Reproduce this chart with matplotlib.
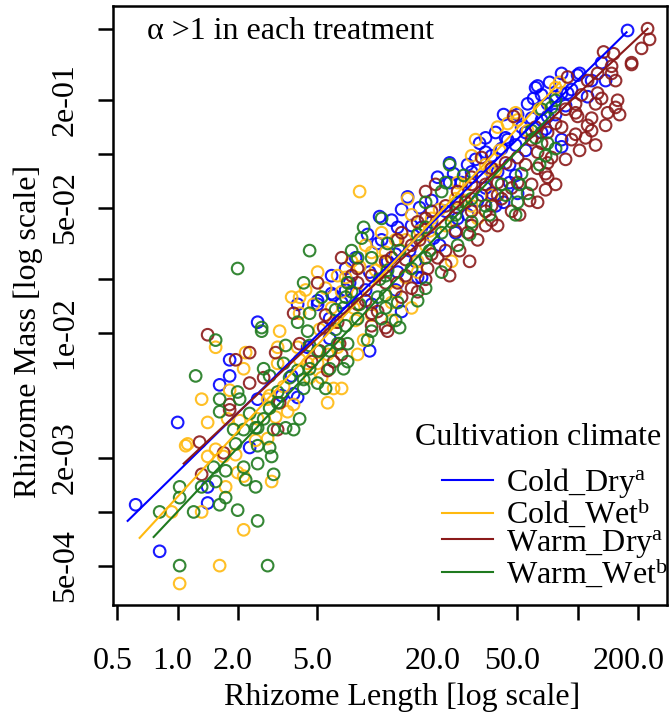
import numpy as np
import matplotlib.pyplot as plt
from matplotlib.lines import Line2D
from matplotlib.ticker import NullLocator
from matplotlib.transforms import ScaledTranslation

plt.rcParams['font.family'] = ['Liberation Serif', 'DejaVu Serif']
plt.rcParams['mathtext.fontset'] = 'custom'
plt.rcParams['mathtext.rm'] = 'Liberation Serif'
plt.rcParams['mathtext.it'] = 'Liberation Serif:italic'

# log10 rhizome length / log10 rhizome mass
cold_dry_len = [-0.21, -0.09, 0.00, 0.15, 0.15, 0.21, 0.26, 0.26, 0.36, 0.40, 0.40, 0.52, 0.57, 0.58, 0.60,
                0.60, 0.65, 0.77, 0.78, 0.84, 0.95, 0.96, 0.96, 0.97, 1.00, 1.01, 1.07, 1.10, 1.12, 1.12,
                1.15, 1.21, 1.22, 1.27, 1.28, 1.30, 1.36, 1.36, 1.38, 1.42, 1.45, 1.49, 1.51, 1.52, 1.54,
                1.54, 1.57, 1.59, 1.60, 1.63, 1.64, 1.66, 1.69, 1.70, 1.70, 1.72, 1.74, 1.78, 1.79, 1.82,
                1.82, 1.85, 1.86, 1.89, 1.92, 1.92, 1.95, 2.00, 2.05, 2.12, 2.14, 2.25, 1.80, 2.01, 1.63,
                0.89, 1.05, 1.16, 0.84, 0.70, 1.09,
                1.02, 1.10, 0.82, 0.77, 0.70, 1.20, 1.22, 1.47, 1.57, 1.34, 1.40, 1.27, 1.17, 1.54, 1.62,
                1.92, 1.85, 1.75, 1.65, 1.69, 1.82, 1.77, 1.92, 1.97, 2.07, 0.76,
                1.09, 1.19, 1.31, 1.39, 1.45, 1.50, 1.59, 1.66, 1.74, 1.84, 1.89, 1.94, 0.86, 0.94, 0.76]
cold_dry_mass = [-2.96, -3.22, -2.50, -2.86, -2.95, -2.29, -2.15, -2.24, -2.64, -2.37, -1.94, -2.35, -2.24, -2.34, -2.36,
                 -1.84, -2.08, -1.68, -1.79, -1.64, -1.45, -2.10, -1.66, -1.84, -1.50, -1.35, -1.37, -1.66, -1.88, -1.31,
                 -1.24, -1.30, -1.69, -1.26, -1.47, -1.13, -1.16, -1.05, -1.11, -1.16, -1.06, -1.03, -0.94, -1.13, -0.99,
                 -0.91, -1.22, -0.88, -1.10, -1.27, -0.91, -1.16, -1.12, -1.22, -0.78, -0.85, -0.88, -0.69, -0.63, -0.67,
                 -0.81, -0.79, -0.60, -0.68, -0.92, -0.96, -0.66, -0.56, -0.68, -0.49, -0.59, -0.31, -0.62, -0.55, -0.78,
                 -1.58, -1.60, -1.54, -1.76, -1.82, -1.76,
                 -1.48, -1.41, -1.83, -1.78, -1.84, -1.69, -1.41, -1.10, -1.01, -1.32, -1.36, -1.38, -1.40, -1.19, -0.97,
                 -0.66, -0.72, -0.72, -0.92, -0.95, -0.88, -0.80, -0.55, -0.64, -0.59, -2.03,
                 -1.56, -1.60, -1.51, -1.44, -1.34, -1.26, -1.29, -1.06, -0.98, -0.86, -0.78, -0.73, -1.72, -1.76, -1.92]

cold_wet_len = [0.04, 0.19, 0.15, 0.23, 0.30, 0.33, 0.47, 0.24, -0.03, 0.12, 0.33, 0.21, 0.01, 0.19, 0.51,
                0.34, 0.33, 0.26, 0.12, 0.15, 0.05, 0.45, 0.49, 0.55, 0.75, 0.58, 0.40, 0.25, 0.31, 0.82,
                0.78, 0.72, 0.90, 0.50, 0.50, 0.60, 0.66, 0.70, 0.75, 0.53, 0.70, 0.57, 0.61, 0.61, 0.68,
                0.74, 0.80, 0.91, 1.02, 0.97, 1.37, 1.17, 1.07, 0.88, 0.78, 0.64, 0.82, 1.02, 1.20, 1.14,
                0.90, 1.07, 0.91, 1.47, 1.15, 1.50, 1.39, 1.17, 1.91, 1.65, 1.70, 1.49, 1.26, 1.09, 1.24,
                1.34, 1.44, 1.59,
                0.94, 1.04, 0.84, 0.77, 1.20, 0.97, 1.09, 0.87, 1.40, 1.54, 1.27, 1.57, 1.47, 1.69, 1.60,
                1.89, 0.65, 0.80, 0.93, 0.45,
                1.14, 1.21, 1.31, 1.44, 1.56, 1.61, 1.75, 1.81, 0.99, 0.89, 0.71, 0.61, 0.46, 0.39, 0.29]
cold_wet_mass = [-2.63, -2.65, -2.69, -2.69, -2.78, -2.80, -2.83, -2.86, -3.00, -3.00, -3.10, -3.30, -3.40, -2.08, -1.99,
                 -2.11, -2.20, -2.32, -2.37, -2.50, -2.62, -2.59, -2.47, -2.44, -2.39, -2.40, -2.48, -2.48, -2.49, -2.31,
                 -2.31, -2.25, -2.12, -2.17, -2.08, -2.08, -2.25, -2.17, -2.12, -2.30, -1.66, -1.80, -1.80, -1.89, -1.84,
                 -1.75, -1.68, -1.63, -1.44, -1.55, -1.60, -1.86, -1.93, -1.86, -1.94, -1.76, -1.77, -1.60, -1.60, -1.69,
                 -1.78, -1.83, -1.21, -1.01, -1.25, -1.36, -1.25, -1.34, -0.60, -0.83, -0.81, -0.92, -1.43, -1.48, -1.51,
                 -1.40, -1.26, -1.09,
                 -1.51, -1.55, -1.69, -1.86, -1.66, -1.90, -1.77, -1.60, -1.16, -1.06, -1.36, -1.23, -1.29, -0.77, -0.85,
                 -0.63, -2.17, -2.08, -2.04, -2.37,
                 -1.48, -1.43, -1.31, -1.17, -1.09, -0.98, -0.87, -0.75, -1.65, -1.93, -1.98, -2.15, -2.35, -2.60, -2.68]

warm_dry_len = [0.11, 0.23, 0.12, 0.15, 0.36, 0.29, 0.36, 0.26, 0.26, 0.50, 0.43, 0.49, 0.61, 0.67, 0.78,
                0.82, 0.81, 0.71, 0.51, 0.70, 0.58, 0.82, 1.12, 1.30, 1.45, 1.17, 1.12, 1.05, 1.00, 0.74,
                0.73, 0.87, 0.90, 1.07, 1.25, 1.10, 0.94, 0.97, 1.52, 1.80, 1.85, 1.87, 1.80, 1.70, 1.64,
                1.74, 1.57, 1.24, 1.62, 1.57, 1.54, 1.47, 1.57, 1.47, 1.34, 1.40, 1.47, 1.54, 1.60, 1.67,
                1.44, 1.52, 1.24, 1.29, 2.17, 2.27, 2.05, 1.95, 2.17, 2.02, 2.10, 2.12, 2.20, 2.19, 1.99,
                1.94, 2.00, 2.07, 2.05, 1.99, 2.04, 1.97, 1.92, 1.79, 1.68, 1.77, 2.35, 2.36, 2.32, 2.18,
                2.13, 2.27, 1.84, 1.85, 1.39, 1.21, 1.34, 1.14,
                0.90, 0.97, 1.04, 1.10, 1.20, 1.27, 1.17, 1.04, 0.90, 0.97, 1.04, 0.80, 1.60, 1.70, 1.47,
                1.40, 1.54, 1.67, 1.77, 1.80, 1.27, 1.20, 2.09, 1.89, 1.85, 1.99, 2.07, 2.15, 2.19, 2.10,
                1.82, 0.75,
                1.14, 1.24, 1.34, 1.41, 1.50, 1.60, 1.71, 1.76, 1.84, 1.89, 1.94, 2.01, 2.09, 2.14, 2.21,
                1.36, 1.46]
warm_dry_mass = [-2.61, -2.67, -2.79, -2.01, -2.11, -2.15, -2.28, -2.40, -2.43, -2.54, -2.25, -2.11, -2.06, -2.16, -2.16,
                 -2.12, -2.06, -2.10, -2.39, -1.72, -1.89, -1.58, -1.44, -1.58, -1.44, -1.75, -1.80, -1.99, -1.88, -1.90,
                 -1.97, -1.68, -1.72, -1.58, -1.64, -1.48, -1.82, -1.89, -1.02, -1.08, -1.13, -1.02, -0.99, -1.02, -1.05,
                 -1.06, -1.08, -1.21, -1.25, -1.29, -1.32, -1.32, -1.37, -1.40, -1.29, -1.21, -1.17, -1.17, -1.16, -1.19,
                 -1.27, -1.23, -1.36, -1.17, -0.51, -0.50, -0.59, -0.57, -0.55, -0.67, -0.66, -0.69, -0.70, -0.74, -0.72,
                 -0.75, -0.79, -0.80, -0.84, -0.89, -0.91, -0.92, -0.85, -0.85, -0.79, -0.92, -0.30, -0.36, -0.41, -0.44,
                 -0.43, -0.49, -1.11, -1.05, -1.43, -1.48, -1.54, -1.59,
                 -1.64, -1.68, -1.72, -1.72, -1.77, -1.56, -1.51, -1.60, -1.84, -1.96, -1.97, -1.94, -1.23, -1.16, -1.13,
                 -1.30, -1.40, -1.32, -1.17, -1.27, -1.32, -1.38, -0.72, -0.83, -0.88, -0.77, -0.87, -0.77, -0.59, -0.55,
                 -0.94, -2.21,
                 -1.68, -1.70, -1.62, -1.54, -1.48, -1.40, -1.34, -1.26, -1.20, -1.17, -1.03, -0.98, -0.95, -0.84, -0.78,
                 -1.68, -1.60]

warm_wet_len = [0.29, 0.40, 0.46, 0.47, 0.40, 0.33, 0.18, 0.24, 0.34, 0.48, 0.19, 0.12, 0.01, 0.39, 0.01,
                0.24, 0.21, -0.09, 0.08, 0.30, 0.40, 0.01, 0.45, 0.19, 0.42, 0.09, 0.30, 0.21, 0.21, 0.31,
                0.28, 0.33, 0.40, 0.48, 0.54, 0.58, 0.61, 0.50, 0.43, 0.39, 0.74, 0.70, 0.76, 0.83, 0.85,
                0.95, 0.43, 0.46, 0.53, 0.54, 0.56, 0.63, 0.66, 0.76, 0.80, 0.63, 0.50, 0.46, 0.30, 0.66,
                0.42, 0.63, 0.66, 0.60, 0.72, 0.87, 0.93, 0.90, 1.05, 1.40, 1.32, 1.24, 1.11, 1.02, 1.00,
                0.83, 0.79, 0.84, 0.65, 0.85, 1.05, 1.20, 1.32, 1.04, 1.36, 1.43, 1.89, 1.72, 1.75, 1.69,
                1.37, 1.02, 1.32, 1.47, 1.24, 1.87, 1.82,
                0.92, 0.97, 1.04, 0.87, 0.90, 0.84, 1.17, 1.24, 1.10, 1.04, 0.97, 1.40, 1.54, 1.62, 1.34,
                1.47, 1.24, 1.70, 1.85, 1.79, 1.89, 1.77, 0.70, 0.85, 0.60, 0.36,
                1.11, 1.26, 1.39, 1.46, 1.56, 1.64, 1.71, 1.81, 1.84, 1.01, 0.91, 1.09, 0.79, 0.66, 1.20]
warm_wet_mass = [-2.62, -2.63, -2.64, -2.69, -2.73, -2.75, -2.75, -2.77, -2.82, -2.79, -2.83, -2.86, -2.86, -2.86, -2.92,
                 -2.92, -2.96, -3.00, -3.00, -2.99, -3.05, -3.30, -3.30, -2.04, -1.99, -2.24, -2.33, -2.37, -2.44, -2.37,
                 -2.54, -2.54, -2.53, -2.54, -2.53, -2.54, -2.48, -2.39, -2.48, -2.53, -2.31, -2.28, -2.20, -2.20, -2.06,
                 -2.04, -2.20, -2.24, -2.17, -2.07, -2.25, -2.26, -2.20, -2.10, -2.06, -2.31, -2.33, -2.42, -1.64, -1.54,
                 -1.97, -1.72, -1.89, -1.94, -1.80, -1.54, -1.41, -1.58, -1.50, -1.51, -1.66, -1.75, -1.97, -1.92, -1.80,
                 -1.86, -1.87, -1.96, -1.99, -1.72, -1.65, -1.45, -1.44, -1.79, -1.06, -1.12, -0.97, -1.11, -1.22, -1.34,
                 -1.38, -1.36, -1.21, -1.25, -1.27, -0.74, -0.75,
                 -1.47, -1.58, -1.68, -1.77, -1.92, -1.80, -1.64, -1.58, -1.83, -1.86, -1.99, -1.27, -1.29, -1.17, -1.16,
                 -1.38, -1.41, -1.27, -0.94, -0.91, -0.70, -0.87, -2.10, -2.16, -2.21, -2.45,
                 -1.54, -1.54, -1.34, -1.45, -1.34, -1.23, -1.17, -1.06, -1.01, -1.70, -1.84, -1.93, -1.98, -2.07, -1.82]

# fitted power-law lines (log10 endpoints)
groups = ['Cold_Dry', 'Cold_Wet', 'Warm_Dry', 'Warm_Wet']
letters = ['a', 'b', 'a', 'b']
colors = ['#0000FF', '#FFB90F', '#8B1A1A', '#1F7A1F']
fit_len = [(-0.25, 2.245), (-0.19, 1.91), (0.03, 2.35), (-0.12, 1.87)]
fit_mass = [(-3.05, -0.32), (-3.145, -0.60), (-2.73, -0.30), (-3.14, -0.78)]

lens = [cold_dry_len, cold_wet_len, warm_dry_len, warm_wet_len]
masses = [cold_dry_mass, cold_wet_mass, warm_dry_mass, warm_wet_mass]

fig = plt.figure(figsize=(6.7, 7.21), dpi=100)
ax = fig.add_axes([113 / 670, 1 - 605 / 721, 554 / 670, 599 / 721])

for x, y, c in zip(lens, masses, colors):
    ax.scatter(10 ** np.array(x), 10 ** np.array(y), s=70, facecolors='none',
               edgecolors=c, linewidths=1.5, alpha=0.9, zorder=2)

for fx, fy, c in zip(fit_len, fit_mass, colors):
    ax.plot(10 ** np.array(fx), 10 ** np.array(fy), color=c, lw=1.5, zorder=3)

ax.set_xscale('log')
ax.set_yscale('log')
ax.set_xlim(0.475, 280)
ax.set_ylim(3.02e-4, 0.671)

xt = [0.5, 1, 2, 5, 20, 50, 100, 200]
xl = ['0.5', '1.0', '2.0', '5.0', '20.0', '50.0', '', '200.0']
yt = [5e-4, 1e-3, 2e-3, 1e-2, 2e-2, 5e-2, 1e-1, 2e-1, 5e-1]
yl = ['5e-04', '', '2e-03', '1e-02', '', '5e-02', '', '2e-01', '']
ax.set_xticks(xt, xl)
ax.set_yticks(yt, yl)
ax.xaxis.set_minor_locator(NullLocator())
ax.yaxis.set_minor_locator(NullLocator())

for s in ax.spines.values():
    s.set_linewidth(1.8)
ax.tick_params(axis='both', direction='out', length=11, width=1.8, labelsize=23)
ax.tick_params(axis='x', pad=19)
ax.tick_params(axis='y', pad=13, labelrotation=90)
for lab in ax.get_yticklabels():
    lab.set_va('center')
# labels sit slightly left of their ticks in the original
for i, lab in enumerate(ax.get_xticklabels()):
    shift = -9 if i == len(xl) - 1 else -5
    lab.set_transform(lab.get_transform() + ScaledTranslation(shift / 100, 0, fig.dpi_scale_trans))

ax.set_xlabel('Rhizome Length [log scale]', fontsize=23)
ax.set_ylabel('Rhizome Mass [log scale]', fontsize=23)
ax.xaxis.set_label_coords(0.522, -0.130)
ax.yaxis.set_label_coords(-0.126, 0.457)

ax.text(0.061, 0.957, r'α >1 in each treatment', transform=ax.transAxes,
        fontsize=23, va='center', ha='left')

ax.text(0.767, 0.279, 'Cultivation climate', transform=ax.transAxes,
        fontsize=23, va='center', ha='center')
handles = [Line2D([], [], color=c, lw=1.5) for c in colors]
labels = [g + r'$^{\mathrm{' + l + '}}$' for g, l in zip(groups, letters)]
ax.legend(handles, labels, loc='upper left',
          bbox_to_anchor=(0.594, 0.232), frameon=False, fontsize=23,
          handlelength=1.6, handletextpad=0.4,
          labelspacing=-0.1, borderpad=0, borderaxespad=0)

fig.savefig('out.png', dpi=100)
